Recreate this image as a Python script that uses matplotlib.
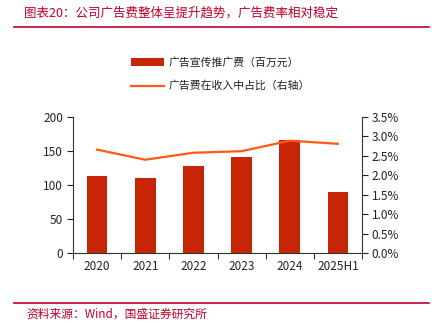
import numpy as np
import matplotlib.pyplot as plt
from matplotlib.lines import Line2D
from matplotlib.patches import Patch
from matplotlib.ticker import FuncFormatter

plt.rcParams['font.family'] = ['Noto Sans CJK SC', 'DejaVu Sans']

years = ['2020', '2021', '2022', '2023', '2024', '2025H1']
ad_spend = [113, 110, 127.5, 141, 166, 90]           # 百万元
ad_ratio = [2.66, 2.40, 2.58, 2.62, 2.89, 2.81]      # %

bar_color = '#C82506'
line_color = '#FF5A14'
red = '#C0002A'

W, H = 432, 326
fig = plt.figure(figsize=(W / 100, H / 100), dpi=100)

# axes placed in pixel terms
x0, x1, yb, yt = 73, 362, 253, 117
ax = fig.add_axes([x0 / W, (H - yb) / H, (x1 - x0) / W, (yb - yt) / H])
ax2 = ax.twinx()

x = np.arange(len(years))
ax.bar(x, ad_spend, width=0.43, color=bar_color, zorder=2)
ax2.plot(x, ad_ratio, color=line_color, lw=1.6, zorder=3)

ax.set_xlim(-0.5, len(years) - 0.5)
ax.set_ylim(0, 200)
ax.set_yticks([0, 50, 100, 150, 200])
ax2.set_ylim(0, 3.5)
ax2.set_yticks(np.arange(0, 3.51, 0.5))
ax2.yaxis.set_major_formatter(FuncFormatter(lambda v, p: f'{v:.1f}%'))

ax.set_xticks(x)
ax.set_xticklabels(years)
ax.set_xticks(np.arange(-0.5, len(years), 1), minor=True)

for a in (ax, ax2):
    a.spines['top'].set_visible(False)
    a.tick_params(labelsize=8.5, colors='#222222', width=0.8, length=4)
    for s in a.spines.values():
        s.set_linewidth(0.8)
        s.set_color('#333333')
ax.spines['right'].set_visible(False)
ax2.spines['left'].set_visible(False)
ax2.spines['bottom'].set_visible(False)
ax.tick_params(axis='x', which='major', length=0, pad=5)
ax.tick_params(axis='x', which='minor', length=4, width=0.8, direction='out', color='#333333')
ax.tick_params(axis='y', pad=3)
ax2.tick_params(axis='y', pad=3)

handles = [Patch(facecolor=bar_color, edgecolor='none'),
           Line2D([], [], color=line_color, lw=1.6)]
labels = ['广告宣传推广费（百万元）', '广告费在收入中占比（右轴）']
fig.legend(handles, labels, loc='upper left', bbox_to_anchor=(131 / W, 1 - 57 / H),
           frameon=False, fontsize=7.8, handlelength=3.0, handleheight=0.7,
           handletextpad=0.5, labelspacing=1.2, borderpad=0, borderaxespad=0,
           labelcolor='#222222')

# title and source with red rules
fig.text(24 / W, 1 - 13 / H, '图表20：公司广告费整体呈提升趋势，广告费率相对稳定',
         color=red, fontsize=9, style='italic', va='center', ha='left')
fig.add_artist(Line2D([14 / W, 429 / W], [1 - 27 / H, 1 - 27 / H], color=red, lw=1.2))
fig.add_artist(Line2D([14 / W, 429 / W], [1 - 303 / H, 1 - 303 / H], color=red, lw=1.2))
fig.text(26 / W, 1 - 314 / H, '资料来源：Wind，国盛证券研究所',
         color=red, fontsize=8.5, style='italic', va='center', ha='left')

fig.savefig('out.png', dpi=100)
